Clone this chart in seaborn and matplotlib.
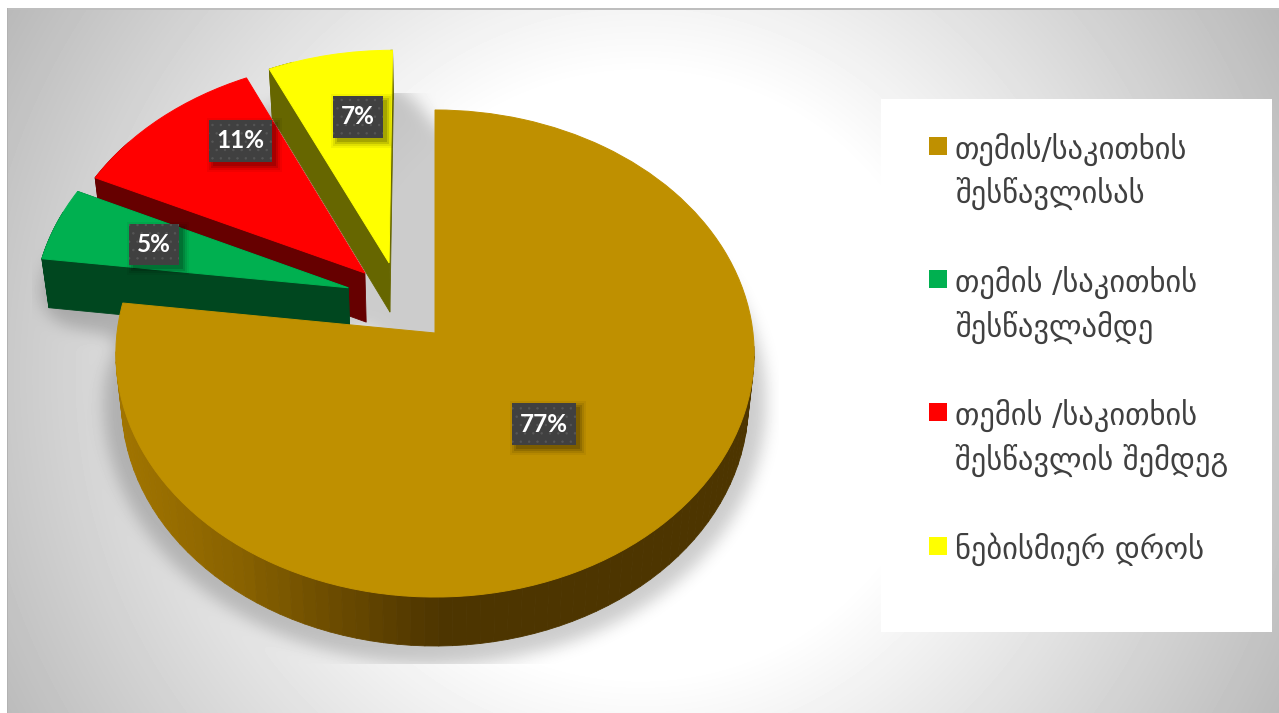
"""Exploded perspective pie: when students use the material (Georgian labels)."""

import numpy as np
import matplotlib
matplotlib.use('Agg')
import matplotlib.pyplot as plt
import seaborn as sns
from matplotlib.collections import PolyCollection
from matplotlib.patches import Rectangle
from matplotlib.path import Path
from matplotlib.transforms import Transform

# data
labels = ['თემის/საკითხის\nშესწავლისას',
          'თემის /საკითხის\nშესწავლამდე',
          'თემის /საკითხის\nშესწავლის შემდეგ',
          'ნებისმიერ დროს']
shares = [77, 5, 11, 7]
slice_colors = ['#BF9000', '#00B050', '#FF0000', '#FFFF00']
side_colors = ['#4D3500', '#00471F', '#660000', '#666600']

# layout, all in picture pixels
W, H = 1279, 713
# slice displacement on the pie plane (unit = pie radius)
slice_shift = [(0, 0), (-0.277, 0.19), (-0.225, 0.253), (-0.148, 0.297)]
label_pos = [(544, 424), (154, 244), (240, 141), (358, 117)]
label_size = [(64, 42), (50, 41), (63, 42), (50, 42)]
draw_order = [3, 2, 1, 0]
legend_y = [137, 270, 403, 537]

# perspective camera
CX, CY = 435, 333
SX, SY, TILT = 318, 241.8, 0.0842
DEPTH, BOTTOM_SCALE = 49, 0.982


def project(xy):
    xy = np.asarray(xy, dtype=float)
    w = 1 + TILT * xy[..., 1]
    return np.stack([CX + SX * xy[..., 0] / w, CY - SY * xy[..., 1] / w], axis=-1)


def lower(pts):
    out = np.array(pts, dtype=float)
    out[..., 0] = CX + (out[..., 0] - CX) * BOTTOM_SCALE
    out[..., 1] += DEPTH
    return out


class Perspective(Transform):
    input_dims = 2
    output_dims = 2
    is_affine = False
    has_inverse = False

    def transform_non_affine(self, values):
        return project(values)


def outline(wedge, n=120):
    """Tip and rim of a pie wedge, on the pie plane."""
    t = np.radians(np.linspace(wedge.theta1, wedge.theta2, n))
    cx, cy = wedge.center
    rim = np.column_stack([cx + np.cos(t), cy + np.sin(t)])
    return np.vstack([[cx, cy], rim, [cx, cy]])


def smooth(img, sigma):
    r = int(3 * sigma)
    k = np.exp(-0.5 * (np.arange(-r, r + 1) / sigma) ** 2)
    k /= k.sum()
    img = np.apply_along_axis(lambda v: np.convolve(v, k, mode='same'), 0, img)
    return np.apply_along_axis(lambda v: np.convolve(v, k, mode='same'), 1, img)


sns.set_theme(style='white')
plt.rcParams['font.family'] = ['DejaVu Sans']

fig = plt.figure(figsize=(W / 100, H / 100), dpi=100, facecolor='white')
ax = fig.add_axes([0, 0, 1, 1])

wedges, _ = ax.pie(shares, colors=slice_colors, startangle=90, counterclock=False,
                   wedgeprops={'linewidth': 0.7})
perspective = Perspective()
for wedge, shift in zip(wedges, slice_shift):
    wedge.set_center(shift)
    wedge.set_transform(perspective + ax.transData)
    wedge.set_edgecolor(wedge.get_facecolor())

# background glow and the soft shadow the pie throws on the floor
yy, xx = np.mgrid[0:H, 0:W]
radius = np.hypot(xx - 640, yy - 375)
bg = 255 - np.clip(radius - 300, 0, None) / 433 * 70

grid = np.column_stack([xx.ravel() + 0.5, yy.ravel() + 0.5])
mask = np.zeros(H * W, dtype=bool)
for wedge in wedges:
    mask |= Path(lower(project(outline(wedge)))).contains_points(grid)
# the gap between the big slice and the yellow one is fully in shade
gold, yellow = outline(wedges[0]), outline(wedges[3])
gap = lower(project(np.array([yellow[1], gold[-2], gold[0], yellow[0]])))
mask |= Path(gap).contains_points(grid)
closed = smooth(mask.reshape(H, W).astype(float), 20) > 0.17
soft = smooth(closed.astype(float), 8)
soft[(xx < 32) | (xx > 778) | (yy < 93) | (yy > 663)] = 0
bg = bg * (1 - 0.2 * soft)
bg[:, :7] = 255
bg[:8, :] = 255
bg[8:10, 7:] = 190
bg[8:, 7:8] = 178
ax.imshow(bg, cmap='gray', vmin=0, vmax=255, extent=[0, W, H, 0], aspect='auto', zorder=0,
          interpolation='bilinear')

# slice walls then slice tops, back to front
rim_palette = sns.blend_palette(['#A07400', '#8A6300', '#6B4B00', side_colors[0]], 64)
for z, i in enumerate(draw_order):
    wedge = wedges[i]
    top = project(outline(wedge))
    bottom = lower(top)
    top_face = Path(top)
    quads = [[top[k], top[k + 1], bottom[k + 1], bottom[k]] for k in range(len(top) - 1)
             if not top_face.contains_point((bottom[k] + bottom[k + 1]) / 2)]
    if i == 0:
        xs = [q[0][0] for q in quads]
        idx = np.clip((np.array(xs) - 120) / 310 * 63, 0, 63).astype(int)
        face = [rim_palette[j] for j in idx]
    else:
        face = [side_colors[i]] * len(quads)
    ax.add_collection(PolyCollection(quads, facecolors=face, edgecolors=face, linewidths=0.6,
                                     zorder=2 + 2 * z))
    wedge.set_zorder(3 + 2 * z)

# percentage tags
plt.rcParams['hatch.linewidth'] = 0.5
for share, (x, y), (w, h) in zip(shares, label_pos, label_size):
    for grow, alpha in [(6, 0.05), (4, 0.08), (2, 0.12), (0, 0.15)]:
        ax.add_patch(Rectangle((x - w / 2 + 4 - grow, y - h / 2 + 4 - grow), w + 2 * grow, h + 2 * grow,
                               facecolor='black', edgecolor='none', alpha=alpha, zorder=20))
    ax.add_patch(Rectangle((x - w / 2, y - h / 2), w, h, facecolor='#404040', edgecolor='#565656',
                           hatch='..', linewidth=0, zorder=21))
    ax.text(x, y, f'{share}%', color='white', fontsize=17.5, fontweight='bold', family='Lato',
            ha='center', va='center', zorder=22)

# legend panel
ax.add_patch(Rectangle((881, 99), 391, 533, facecolor='white', edgecolor='none', zorder=30))
for text, color, y in zip(labels, slice_colors, legend_y):
    ax.add_patch(Rectangle((929, y), 18, 18, facecolor=color, edgecolor='none', zorder=31))
    ax.text(955, y - 4, text, color='#404040', fontsize=22, va='top', ha='left',
            linespacing=1.47, zorder=31)

ax.set_xlim(0, W)
ax.set_ylim(H, 0)
ax.set_aspect('auto')
ax.set_frame_on(False)
ax.set_xticks([])
ax.set_yticks([])
fig.savefig('out.png', dpi=100)
plt.close(fig)
